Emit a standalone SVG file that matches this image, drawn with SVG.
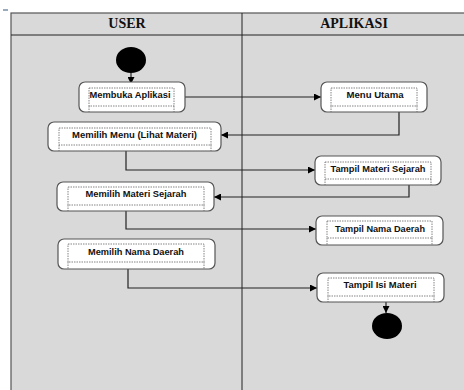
<svg xmlns="http://www.w3.org/2000/svg" width="464" height="390" viewBox="0 0 464 390">
<defs>
<marker id="ah" viewBox="0 0 10 10" refX="10" refY="5" markerWidth="7" markerHeight="7" markerUnits="userSpaceOnUse" orient="auto">
<path d="M0,0 L10,5 L0,10 z" fill="#000"/>
</marker>
<style>
.box{fill:#fff;stroke:#555;stroke-width:1.2}
.inner{fill:#fff;stroke:#666;stroke-width:0.8;stroke-dasharray:1.5 1}
.t{font-family:"Liberation Sans",Arial,sans-serif;font-size:9px;font-weight:bold;fill:#111;text-anchor:middle}
.h{font-family:"Liberation Serif","Times New Roman",serif;font-size:14px;font-weight:bold;fill:#111;text-anchor:middle}
.c{fill:none;stroke:#222;stroke-width:1.2}
</style>
</defs>
<rect width="464" height="390" fill="#fff"/>
<rect x="3" y="9" width="5" height="2" fill="#9ab"/>
<g id="lanes">
<rect x="11" y="13" width="460" height="390" fill="#d9d9d9" stroke="#555" stroke-width="1.2"/>
<line x1="11" y1="35" x2="464" y2="35" stroke="#222" stroke-width="1"/>
<line x1="242" y1="13" x2="242" y2="390" stroke="#222" stroke-width="1"/>
<text class="h" x="127" y="28">USER</text>
<text class="h" x="354" y="28">APLIKASI</text>
</g>
<g id="connectors">
<path class="c" d="M131,73 V84" marker-end="url(#ah)"/>
<path class="c" d="M185,97 H321" marker-end="url(#ah)"/>
<path class="c" d="M399,112 V135 H221" marker-end="url(#ah)"/>
<path class="c" d="M126,151 V170 H315" marker-end="url(#ah)"/>
<path class="c" d="M409,185 V197 H214" marker-end="url(#ah)"/>
<path class="c" d="M126,211 V229 H316" marker-end="url(#ah)"/>
<path class="c" d="M128,269 V288 H317" marker-end="url(#ah)"/>
<path class="c" d="M386,302 V313" marker-end="url(#ah)"/>
</g>
<g id="start"><ellipse cx="131" cy="60" rx="15" ry="13" fill="#000"/></g>
<g id="n1">
<rect class="box" x="79" y="82" width="106" height="30" rx="6"/>
<rect class="inner" x="89" y="88" width="85" height="18"/>
<path class="inner" d="M89,106 V112 M174,106 V112" fill="none"/>
<text class="t" x="130" y="98" textLength="81" lengthAdjust="spacingAndGlyphs">Membuka Aplikasi</text>
</g>
<g id="n2">
<rect class="box" x="321" y="82" width="106" height="30" rx="6"/>
<rect class="inner" x="331" y="88" width="86" height="18"/>
<path class="inner" d="M331,106 V112 M417,106 V112" fill="none"/>
<text class="t" x="375" y="98" textLength="57" lengthAdjust="spacingAndGlyphs">Menu Utama</text>
</g>
<g id="n3">
<rect class="box" x="48" y="122" width="173" height="29" rx="6"/>
<rect class="inner" x="59" y="128" width="152" height="17"/>
<path class="inner" d="M59,145 V151 M211,145 V151" fill="none"/>
<text class="t" x="134.5" y="138" textLength="125" lengthAdjust="spacingAndGlyphs">Memilih Menu (Lihat Materi)</text>
</g>
<g id="n4">
<rect class="box" x="315" y="156" width="126" height="29" rx="6"/>
<rect class="inner" x="325" y="162" width="106" height="17"/>
<path class="inner" d="M325,179 V185 M431,179 V185" fill="none"/>
<text class="t" x="378" y="172" textLength="95" lengthAdjust="spacingAndGlyphs">Tampil Materi Sejarah</text>
</g>
<g id="n5">
<rect class="box" x="57" y="182" width="157" height="29" rx="6"/>
<rect class="inner" x="68" y="187" width="136" height="18"/>
<path class="inner" d="M68,205 V211 M204,205 V211" fill="none"/>
<text class="t" x="136" y="197" textLength="101" lengthAdjust="spacingAndGlyphs">Memilih Materi Sejarah</text>
</g>
<g id="n6">
<rect class="box" x="316" y="216" width="127" height="29" rx="6"/>
<rect class="inner" x="327" y="221" width="105" height="17"/>
<path class="inner" d="M327,238 V245 M432,238 V245" fill="none"/>
<text class="t" x="380" y="232" textLength="90" lengthAdjust="spacingAndGlyphs">Tampil Nama Daerah</text>
</g>
<g id="n7">
<rect class="box" x="58" y="239" width="157" height="30" rx="6"/>
<rect class="inner" x="68" y="244" width="136" height="18"/>
<path class="inner" d="M68,262 V269 M204,262 V269" fill="none"/>
<text class="t" x="136" y="255" textLength="96" lengthAdjust="spacingAndGlyphs">Memilih Nama Daerah</text>
</g>
<g id="n8">
<rect class="box" x="317" y="273" width="127" height="29" rx="6"/>
<rect class="inner" x="328" y="278" width="106" height="18"/>
<path class="inner" d="M328,296 V302 M434,296 V302" fill="none"/>
<text class="t" x="380" y="288" textLength="73" lengthAdjust="spacingAndGlyphs">Tampil Isi Materi</text>
</g>
<g id="end"><ellipse cx="387" cy="326" rx="15" ry="13" fill="#000"/></g>
</svg>
